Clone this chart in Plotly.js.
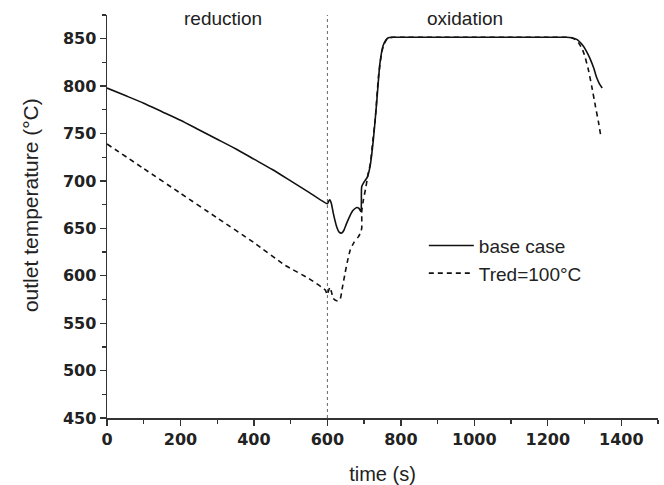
<!DOCTYPE html>
<html>
<head>
<meta charset="utf-8">
<script src="https://cdn.plot.ly/plotly-3.0.1.min.js"></script>
<style>html,body{margin:0;padding:0;background:#fff;}#chart{width:664px;height:485px;}</style>
</head>
<body>
<div id="chart"></div>
<script>
// base case (solid)
const baseTime = [0, 50, 100, 150, 200, 250, 300, 350, 400, 450, 500, 550, 600, 604, 607, 611, 616, 625, 632, 639, 645, 652, 661, 670, 680, 686, 691.5, 692.5, 693.4, 700, 708.8, 716, 725, 734, 743, 752, 760, 766, 775, 784, 800, 900, 1000, 1100, 1200, 1250, 1265, 1280, 1295, 1305, 1315, 1325, 1333, 1341, 1348];
const baseTemp = [798, 790, 782, 773, 764, 754, 744, 734, 723, 712, 700, 688, 676, 679, 680, 676, 666, 652, 646, 645, 648, 655, 663, 669, 672, 671, 667.5, 680, 694, 699, 704, 715, 743, 782, 824, 843, 849, 851, 851.5, 851.5, 851.5, 851.5, 851.5, 851.5, 851.5, 851.5, 851, 849, 843, 837, 829, 819, 809, 802, 798];
// Tred = 100 °C (dashed)
const tredTime = [0, 100, 200, 300, 400, 485, 550, 594, 600, 603, 607, 611, 616, 625, 634, 641, 648, 655, 662, 672, 684, 690, 693.4, 693.6, 698, 705, 711, 717, 723, 730, 739, 748, 755, 762, 770, 779, 800, 900, 1000, 1100, 1200, 1250, 1265, 1275, 1285, 1295, 1302, 1310, 1320, 1330, 1338, 1344];
const tredTemp = [739, 713, 687, 661, 635, 611, 597, 585, 580, 584, 588, 583, 576, 573.6, 574.5, 588, 602.5, 616, 627, 635, 641, 645, 650, 668, 680, 694, 708, 718, 740, 764, 810, 836, 845, 849.5, 851, 851.5, 851.5, 851.5, 851.5, 851.5, 851.5, 851.5, 851, 849, 845, 838, 830, 818, 799, 778, 762, 748];
// switch between reduction and oxidation
const switchTime = [600, 600];
const switchTemp = [450, 875];
const seriesNames = ["base case", "Tred=100°C"];
const phaseLabels = ["reduction", "oxidation"];
const phaseTimes = [317, 975];
const xTickVals = [0, 200, 400, 600, 800, 1000, 1200, 1400];
const yTickVals = [450, 500, 550, 600, 650, 700, 750, 800, 850];
const xTitle = "time (s)";
const yTitle = "outlet temperature (°C)";

const FONT = "Liberation Sans, Arial, sans-serif";
const TICKFONT = "DejaVu Sans, Liberation Sans, sans-serif";
const bold = v => "<b>" + v + "</b>";
const traces = [
  {x: switchTime, y: switchTemp, mode: "lines", line: {color: "#666", width: 1, dash: "dot"}, showlegend: false, hoverinfo: "skip"},
  {x: baseTime, y: baseTemp, name: seriesNames[0], mode: "lines", line: {color: "#111", width: 1.6, shape: "spline", smoothing: 0.5}},
  {x: tredTime, y: tredTemp, name: seriesNames[1], mode: "lines", line: {color: "#111", width: 1.6, dash: "5px,4px", shape: "spline", smoothing: 0.5}}
];
const axisCommon = {
  showgrid: false, zeroline: false,
  showline: true, linecolor: "#333", linewidth: 1.5,
  ticks: "outside", ticklen: 6, tickwidth: 1.3, tickcolor: "#333",
  tickfont: {size: 16, family: TICKFONT, weight: 700, color: "#222"}
};
const layout = {
  width: 664, height: 485,
  margin: {l: 107, r: 6, t: 15, b: 67},
  paper_bgcolor: "#fff", plot_bgcolor: "#fff",
  font: {family: FONT, color: "#222"},
  showlegend: true,
  legend: {x: 0.575, y: 0.475, xanchor: "left", yanchor: "top", bgcolor: "rgba(0,0,0,0)", font: {size: 19, family: FONT, color: "#222"}, itemwidth: 45, tracegroupgap: 0},
  xaxis: Object.assign({}, axisCommon, {
    range: [0, 1500],
    tickmode: "array", tickvals: xTickVals, ticktext: xTickVals.map(bold),
    minor: {dtick: 100, tick0: 0, ticks: "outside", ticklen: 4, tickwidth: 1.3, tickcolor: "#333"},
    title: {text: xTitle, font: {size: 20, family: FONT, color: "#222"}, standoff: 20}
  }),
  yaxis: Object.assign({}, axisCommon, {
    range: [450, 875],
    tickmode: "array", tickvals: yTickVals, ticktext: yTickVals.map(bold),
    minor: {dtick: 25, tick0: 450, ticks: "outside", ticklen: 4, tickwidth: 1.3, tickcolor: "#333"}
  }),
  annotations: phaseLabels.map((t, i) => ({
    text: t, x: phaseTimes[i], xref: "x", y: 0.992, yref: "paper", yanchor: "middle",
    showarrow: false, font: {size: 19, family: FONT, color: "#222"}
  })).concat([{
    text: yTitle, textangle: -90, xref: "paper", yref: "paper",
    x: -0.14, y: 0.528, xanchor: "center", yanchor: "middle",
    showarrow: false, font: {size: 21, family: FONT, color: "#222"}
  }])
};
Plotly.newPlot("chart", traces, layout, {staticPlot: true, displayModeBar: false});
</script>
</body>
</html>
